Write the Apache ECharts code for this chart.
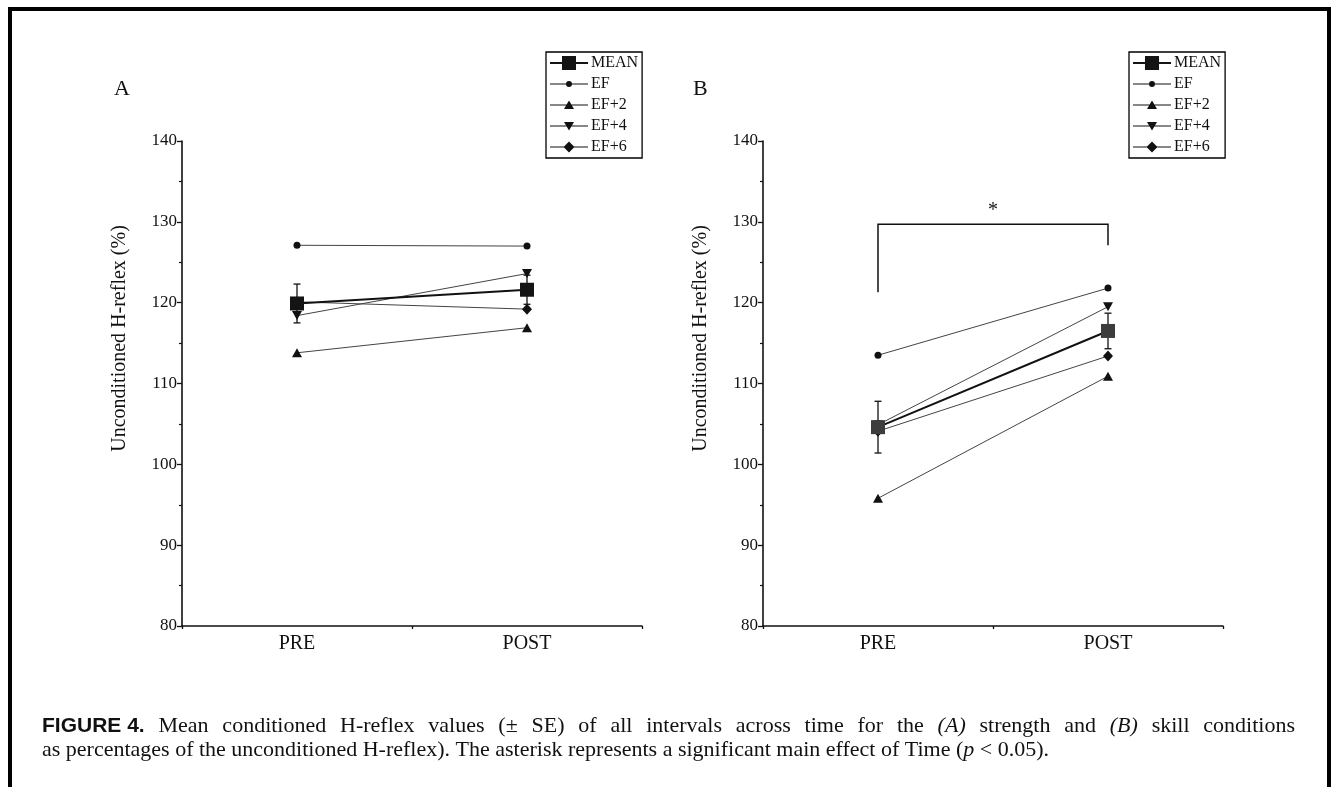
<!DOCTYPE html>
<html><head><meta charset="utf-8">
<script src="https://cdn.jsdelivr.net/npm/echarts@6/dist/echarts.min.js"></script>
<style>html,body{margin:0;padding:0;background:#fff}#c{width:1331px;height:787px}</style>
</head><body><div id="c"></div>
<script>
// ---------------- data ----------------
const categories = ['PRE', 'POST'];
const seriesNames = ['MEAN', 'EF', 'EF+2', 'EF+4', 'EF+6'];
const yTicks = [80, 90, 100, 110, 120, 130, 140];
// Panel A (strength)
const meanA = [119.9, 121.6];
const seA = [2.4, 1.8];
const efA = [127.1, 127.0];
const ef2A = [113.8, 116.9];
const ef4A = [118.4, 123.6];
const ef6A = [120.1, 119.2];
// Panel B (skill)
const meanB = [104.6, 116.5];
const seB = [3.2, 2.2];
const efB = [113.5, 121.8];
const ef2B = [95.8, 110.9];
const ef4B = [104.9, 119.5];
const ef6B = [104.1, 113.4];
// significance bracket in panel B: left leg end, top bar, right leg end
const bracketB = [121.3, 129.7, 127.1];
// caption
const captionLine1 = [['b', 'FIGURE 4.'], ['n', 'Mean'], ['n', 'conditioned'], ['n', 'H-reflex'], ['n', 'values'], ['n', '(±'], ['n', 'SE)'], ['n', 'of'], ['n', 'all'], ['n', 'intervals'], ['n', 'across'], ['n', 'time'], ['n', 'for'], ['n', 'the'], ['i', '(A)'], ['n', 'strength'], ['n', 'and'], ['i', '(B)'], ['n', 'skill'], ['n', 'conditions']];
const captionLine2 = 'as percentages of the unconditioned H-reflex). The asterisk represents a significant main effect of Time ({i|p} < 0.05).';

// ---------------- styling ----------------
const SERIF = '"Liberation Serif", "Times New Roman", serif';
const SANS = '"Liberation Sans", Arial, sans-serif';
const INK = '#111';
const CAP_SIZE = 22;
const markers = {
  'MEAN': { symbol: 'rect', size: 14, lw: 2, line: '#111' },
  'EF': { symbol: 'circle', size: 7, lw: 1, line: '#444' },
  'EF+2': { symbol: 'triangle', size: [10, 9], lw: 1, line: '#444' },
  'EF+4': { symbol: 'triangle', size: [10, 9], rotate: 180, lw: 1, line: '#444' },
  'EF+6': { symbol: 'diamond', size: [10, 11], lw: 1, line: '#444' }
};
const corners = 'M0,0 L0.01,0 L0,0.01 Z M38,14 L37.99,14 L38,13.99 Z ';
const thin = 'M0,6.5 L38,6.5 L38,7.5 L0,7.5 Z ';
const iconPaths = {
  'MEAN': 'path://' + corners + 'M0,6 L12,6 L12,8 L0,8 Z M26,6 L38,6 L38,8 L26,8 Z M12,0 L26,0 L26,14 L12,14 Z',
  'EF': 'path://' + corners + thin + 'M22,7 A3,3 0 1,1 16,7 A3,3 0 1,1 22,7 Z',
  'EF+2': 'path://' + corners + thin + 'M19,2.5 L24,11 L14,11 Z',
  'EF+4': 'path://' + corners + thin + 'M14,3 L24,3 L19,11.5 Z',
  'EF+6': 'path://' + corners + thin + 'M19,1.5 L24.5,7 L19,12.5 L13.5,7 Z'
};

function lineSeries(idx, name, values, meanFill) {
  const m = markers[name];
  const color = name === 'MEAN' ? meanFill : INK;
  return {
    type: 'line', name, xAxisIndex: idx, yAxisIndex: idx, data: values,
    symbol: m.symbol, symbolSize: m.size, symbolRotate: m.rotate || 0,
    showSymbol: true, z: name === 'MEAN' ? 4 : 3,
    itemStyle: { color, borderWidth: 0 },
    lineStyle: { color: m.line, width: m.lw },
    emphasis: { disabled: true }, animation: false
  };
}

function errorSeries(idx, mean, se) {
  return {
    type: 'custom', xAxisIndex: idx, yAxisIndex: idx, z: 2, silent: true, animation: false,
    data: mean.map((v, i) => [i, v - se[i], v + se[i]]),
    encode: { x: 0, y: [1, 2] },
    renderItem(params, api) {
      const lo = api.coord([api.value(0), api.value(1)]);
      const hi = api.coord([api.value(0), api.value(2)]);
      const w = 3.5, st = { stroke: INK, lineWidth: 1.3 };
      return { type: 'group', children: [
        { type: 'line', shape: { x1: hi[0], y1: hi[1], x2: lo[0], y2: lo[1] }, style: st },
        { type: 'line', shape: { x1: hi[0] - w, y1: hi[1], x2: hi[0] + w, y2: hi[1] }, style: st },
        { type: 'line', shape: { x1: lo[0] - w, y1: lo[1], x2: lo[0] + w, y2: lo[1] }, style: st }
      ] };
    }
  };
}

function bracketSeries(idx, b) {
  return {
    type: 'custom', xAxisIndex: idx, yAxisIndex: idx, z: 2, silent: true, animation: false,
    data: [[0, 1, b[0], b[1], b[2]]],
    encode: { x: [0, 1], y: [2, 3, 4] },
    renderItem(params, api) {
      const p1 = api.coord([api.value(0), api.value(2)]);
      const p2 = api.coord([api.value(0), api.value(3)]);
      const p3 = api.coord([api.value(1), api.value(3)]);
      const p4 = api.coord([api.value(1), api.value(4)]);
      return { type: 'group', children: [
        { type: 'polyline', shape: { points: [p1, p2, p3, p4] }, style: { stroke: INK, lineWidth: 1.5, fill: null } },
        { type: 'text', x: (p2[0] + p3[0]) / 2, y: p2[1] - 14,
          style: { text: '*', font: '20px ' + SERIF, fill: INK, align: 'center', verticalAlign: 'middle' } }
      ] };
    }
  };
}

function xAxis(idx) {
  return {
    type: 'category', gridIndex: idx, data: categories, boundaryGap: true,
    axisLine: { show: true, lineStyle: { color: INK, width: 1.6 } },
    axisTick: { show: true, length: 3, lineStyle: { color: INK, width: 1.3 } },
    axisLabel: { fontFamily: SERIF, fontSize: 20, color: INK, margin: 8 },
    splitLine: { show: false }
  };
}
function yAxis(idx) {
  return {
    type: 'value', gridIndex: idx, min: yTicks[0], max: yTicks[yTicks.length - 1], interval: 10,
    name: 'Unconditioned H-reflex (%)', nameLocation: 'middle', nameGap: 52,
    nameTextStyle: { fontFamily: SERIF, fontSize: 20, color: INK, padding: [0, 0, 0, 90] },
    axisLine: { show: true, lineStyle: { color: INK, width: 1.6 } },
    axisTick: { show: true, length: 5, inside: false, lineStyle: { color: INK, width: 1.3 } },
    minorTick: { show: true, splitNumber: 2, length: 3, lineStyle: { color: INK, width: 1.2 } },
    axisLabel: { fontFamily: SERIF, fontSize: 17, color: INK, margin: 5 },
    splitLine: { show: false }
  };
}
function legend(left) {
  return {
    left, top: 52, orient: 'vertical', itemWidth: 38, itemHeight: 14, itemGap: 5,
    padding: [3, 4, 3, 4], borderColor: '#000', borderWidth: 1.3, selectedMode: false,
    data: seriesNames.map(n => ({ name: n, icon: iconPaths[n] })),
    textStyle: { fontFamily: SERIF, fontSize: 16, color: INK, padding: [0, 0, 0, -2] }
  };
}

const panels = [
  { mean: meanA, se: seA, vals: [meanA, efA, ef2A, ef4A, ef6A], meanFill: '#141414' },
  { mean: meanB, se: seB, vals: [meanB, efB, ef2B, ef4B, ef6B], meanFill: '#3d3d3d' }
];
const series = [];
panels.forEach((p, idx) => {
  series.push(errorSeries(idx, p.mean, p.se));
  seriesNames.forEach((n, k) => series.push(lineSeries(idx, n, p.vals[k], p.meanFill)));
});
series.push(bracketSeries(1, bracketB));

// ---- caption: justified first line, ragged second line ----
const CAP_LEFT = 42, CAP_RIGHT = 1295, CAP_Y1 = 726, CAP_Y2 = 750;
const capFont = s => s === 'b' ? 'bold ' + (CAP_SIZE - 1) + 'px ' + SANS
  : (s === 'i' ? 'italic ' : '') + CAP_SIZE + 'px ' + SERIF;
const mctx = document.createElement('canvas').getContext('2d');
const widths = captionLine1.map(([s, t]) => { mctx.font = capFont(s); return mctx.measureText(t).width; });
const totalW = widths.reduce((a, b) => a + b, 0);
const gap = (CAP_RIGHT - CAP_LEFT - totalW) / (captionLine1.length - 1);
const captionGraphics = [];
let cx = CAP_LEFT;
captionLine1.forEach(([s, t], k) => {
  captionGraphics.push({ type: 'text', x: cx, y: CAP_Y1,
    style: { text: t, font: capFont(s), fill: INK, verticalAlign: 'middle' } });
  cx += widths[k] + gap;
});
captionGraphics.push({ type: 'text', x: CAP_LEFT, y: CAP_Y2, style: {
  text: captionLine2, font: capFont('n'), fill: INK, verticalAlign: 'middle',
  rich: { i: { fontStyle: 'italic', fontFamily: SERIF, fontSize: CAP_SIZE } }
} });

const chart = echarts.init(document.getElementById('c'), null, { renderer: 'canvas' });
chart.setOption({
  backgroundColor: '#fff',
  animation: false,
  grid: [
    { left: 182, top: 141, width: 460, height: 485 },
    { left: 763, top: 141, width: 460, height: 485 }
  ],
  xAxis: [xAxis(0), xAxis(1)],
  yAxis: [yAxis(0), yAxis(1)],
  legend: [legend(546), legend(1129)],
  series,
  graphic: [
    { type: 'rect', shape: { x: 8, y: 7, width: 1323, height: 4 }, style: { fill: '#000' } },
    { type: 'rect', shape: { x: 8, y: 7, width: 4, height: 780 }, style: { fill: '#000' } },
    { type: 'rect', shape: { x: 1327, y: 7, width: 4, height: 780 }, style: { fill: '#000' } },
    { type: 'text', left: 114, top: 78, style: { text: 'A', font: '22px ' + SERIF, fill: INK } },
    { type: 'text', left: 693, top: 78, style: { text: 'B', font: '22px ' + SERIF, fill: INK } }
  ].concat(captionGraphics)
});
</script></body></html>
